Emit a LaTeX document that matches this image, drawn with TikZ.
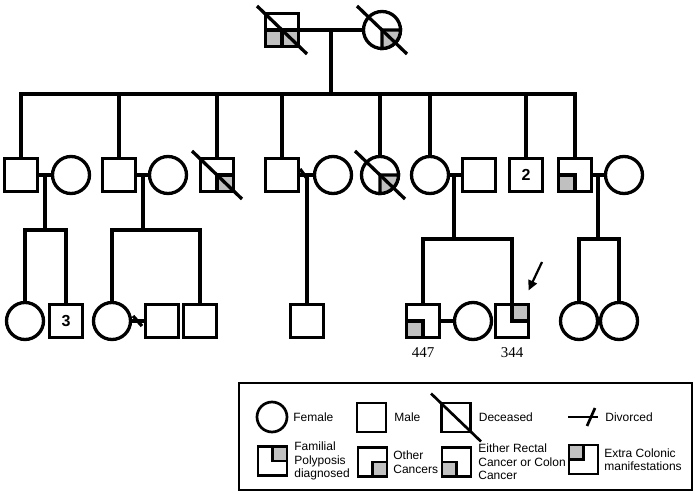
\documentclass[tikz,border=0pt]{standalone}
\usepackage{fontspec}
\setmainfont{Liberation Sans}
\newfontfamily\serifnum{Liberation Serif}
\usetikzlibrary{positioning,arrows.meta}

\definecolor{polypgray}{RGB}{192,192,192}

% quadrant marks and deceased slash
\newcommand{\sqBL}[1]{\draw[quad] (#1.south west) rectangle (#1.center);}
\newcommand{\sqBR}[1]{\draw[quad] (#1.south east) rectangle (#1.center);}
\newcommand{\sqTR}[1]{\draw[quad] (#1.north east) rectangle (#1.center);}
\newcommand{\sqTL}[1]{\draw[quad] (#1.north west) rectangle (#1.center);}
\newcommand{\ciBR}[1]{\draw[quad] (#1.center) -- (#1.east) arc[start angle=0, end angle=90, radius=18.5] -- cycle;}
\newcommand{\dead}[1]{\draw ([shift={(-25,-24)}]#1.center) -- ([shift={(25,24)}]#1.center);}

\begin{document}
\begin{tikzpicture}[
			x=1pt, y=-1pt, line width=3.3pt,
			male/.style={rectangle, draw, minimum size=33pt, inner sep=0pt, outer sep=0pt, font=\bfseries\fontsize{16}{16}\selectfont},
			female/.style={circle, draw, minimum size=37pt, inner sep=0pt, outer sep=0pt},
			quad/.style={fill=polypgray, draw},
			lmale/.style={rectangle, draw, minimum size=29pt, inner sep=0pt, outer sep=0pt},
			lfemale/.style={circle, draw, minimum size=30pt, inner sep=0pt, outer sep=0pt},
			ltext/.style={inner sep=0pt, align=left, font=\fontsize{12}{13.5}\selectfont},
			idlabel/.style={inner sep=0pt, font=\serifnum\fontsize{15}{15}\selectfont},
			legendbox/.style={rectangle, draw, line width=2.7pt, minimum width=453pt, minimum height=107pt},
			pointer/.style={-{Triangle[length=10pt,width=9pt]}, line width=2.2pt}
			]
			\useasboundingbox (0,0) rectangle (695,494);
			
			% Grandparents
			\node[male] (gpa) at (282,30) {};
			\node[female] (gma) at (382,30) {};
			\sqBL{gpa} \sqBR{gpa}
			\ciBR{gma}
			\dead{gpa} \dead{gma}
			\draw (gpa) -- (gma);
			\coordinate (top) at (331,30);
			\coordinate (sib) at (331,94);
			\draw (top) -- (sib);
			
			% Second generation
			\node[male] (son1) at (21,175) {};
			\node[female] (wife1) at (71,175) {};
			\node[male] (son2) at (119,175) {};
			\node[female] (wife2) at (168,175) {};
			\node[male] (son3) at (217,175) {};
			\node[male] (son4) at (282,175) {};
			\node[female] (wife4) at (333,175) {};
			\node[female] (dau1) at (380,175) {};
			\node[female] (dau2) at (430,175) {};
			\node[male] (husb2) at (479,175) {};
			\node[male] (sons) at (526,175) {2};
			\node[male] (son5) at (575,175) {};
			\node[female] (wife5) at (624,175) {};
			\sqBR{son3} \dead{son3}
			\ciBR{dau1} \dead{dau1}
			\sqBL{son5}
			
			\draw (son1) |- (sib) -| (son5);
			\foreach \kid in {son2,son3,son4,dau1,dau2,sons}
				\draw (\kid |- sib) -- (\kid);
			
			% Marriages
			\draw (son1) -- (wife1);
			\draw (son2) -- (wife2);
			\draw (son4) -- (wife4);
			\draw (300,169) -- (308,180);
			\draw (dau2) -- (husb2);
			\draw (son5) -- (wife5);
			
			% Third generation
			\node[female] (gdau1) at (25,321) {};
			\node[male] (gsons) at (66,321) {3};
			\node[female] (gdau2) at (112,321) {};
			\node[male] (gspouse2) at (162,321) {};
			\node[male] (gson2) at (200,321) {};
			\node[male] (gson4) at (307,321) {};
			\node[male] (gson447) at (423,321) {};
			\node[female] (gwife447) at (473,321) {};
			\node[male] (gson344) at (512,321) {};
			\node[female] (gdau5a) at (579,321) {};
			\node[female] (gdau5b) at (619,321) {};
			\sqBL{gson447}
			\sqTR{gson344}
			
			\coordinate (m1) at (45,175);
			\coordinate (kids1) at (45,230);
			\draw (m1) -- (kids1);
			\draw (gdau1) |- (kids1) -| (gsons);
			
			\coordinate (m2) at (143,175);
			\coordinate (kids2) at (143,230);
			\draw (m2) -- (kids2);
			\draw (gdau2) |- (kids2) -| (gson2);
			
			\coordinate (m4) at (307,175);
			\draw (m4) -- (gson4);
			
			\coordinate (m7) at (454,175);
			\coordinate (kids7) at (454,239);
			\draw (m7) -- (kids7);
			\draw (gson447) |- (kids7) -| (gson344);
			
			\coordinate (m9) at (598,175);
			\coordinate (kids9) at (598,239);
			\draw (m9) -- (kids9);
			\draw (gdau5a) |- (kids9) -| (gdau5b);
			
			\draw (gdau2) -- (gspouse2);
			\draw (133,316) -- (142,326);
			\draw (gson447) -- (gwife447);
			
			% Proband
			\coordinate (ptr) at (542,262);
			\draw[pointer] (ptr) -- ([shift={(0,-14)}]gson344.north east);
			\node[idlabel, below=8pt of gson447] (id447) {447};
			\node[idlabel, below=8pt of gson344] (id344) {344};
			
			% Legend
			\node[legendbox] (legend) at (465.5,436.5) {};
			\begin{scope}[line width=2.7pt]
				\node[lfemale] (keyF) at (272,417) {};
				\node[ltext, right=5pt of keyF] (keyFt) {Female};
				\node[lmale] (keyM) at (371.5,417.5) {};
				\node[ltext, right=7pt of keyM] (keyMt) {Male};
				\node[lmale] (keyD) at (456,417.5) {};
				\dead{keyD}
				\node[ltext, right=7pt of keyD] (keyDt) {Deceased};
				\coordinate (keyV) at (568,417);
				\draw (keyV) -- ++(30,0);
				\draw (587,426) -- (595,408);
				\node[ltext, anchor=west] (keyVt) at (604,417) {Divorced};
				
				\node[lmale] (keyP) at (272.5,461) {};
				\sqTR{keyP}
				\node[ltext, right=6pt of keyP] (keyPt) {Familial\\Polyposis\\diagnosed};
				\node[lmale] (keyO) at (372.5,462) {};
				\sqBR{keyO}
				\node[ltext, right=5pt of keyO] (keyOt) {Other\\Cancers};
				\node[lmale] (keyR) at (456.5,462) {};
				\sqBL{keyR}
				\node[ltext, right=6pt of keyR] (keyRt) {Either Rectal\\Cancer or Colon\\Cancer};
				\node[lmale] (keyX) at (583.5,459.5) {};
				\sqTL{keyX}
				\node[ltext, right=5pt of keyX] (keyXt) {Extra Colonic\\manifestations};
			\end{scope}
			
		\end{tikzpicture}
\end{document}
